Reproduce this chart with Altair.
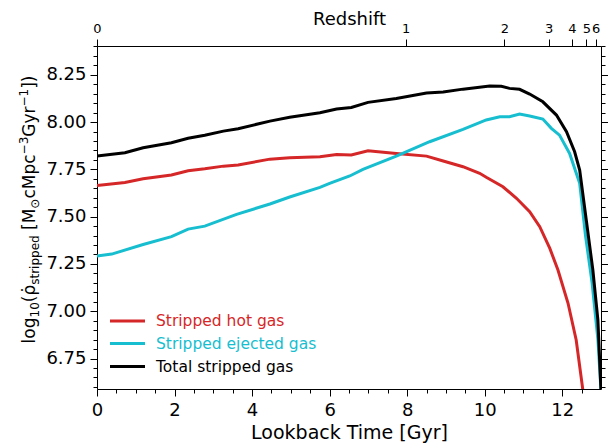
import altair as alt
import pandas as pd

# ---------------- data ----------------
names = ["Stripped hot gas", "Stripped ejected gas", "Total stripped gas"]
colors = ["#d62728", "#17becf", "#000000"]

t_hot = [0.0, 0.72, 1.19, 1.92, 2.35, 2.78, 3.26, 3.64, 4.46, 4.97, 5.75, 6.18, 6.56,
         6.99, 7.72, 8.50, 8.93, 9.44, 9.87, 10.04, 10.47, 10.82, 11.16, 11.42, 11.68,
         11.89, 12.15, 12.36, 12.53, 12.60]
v_hot = [7.665, 7.681, 7.700, 7.720, 7.743, 7.753, 7.767, 7.773, 7.804, 7.811, 7.817, 7.829, 7.826,
         7.848, 7.834, 7.820, 7.794, 7.764, 7.729, 7.708, 7.658, 7.597, 7.526, 7.447, 7.332,
         7.218, 7.042, 6.848, 6.587, 6.450]

t_ej = [0.0, 0.38, 1.19, 1.92, 2.35, 2.78, 3.60, 4.46, 4.97, 5.75, 6.0, 6.52, 6.86,
        7.72, 8.58, 9.44, 10.04, 10.39, 10.64, 10.90, 11.16, 11.50, 11.72, 11.93, 12.19,
        12.45, 12.60, 12.77, 12.92, 13.0]
v_ej = [7.292, 7.302, 7.353, 7.394, 7.434, 7.450, 7.512, 7.567, 7.604, 7.655, 7.676, 7.715, 7.750,
        7.820, 7.896, 7.961, 8.011, 8.028, 8.028, 8.042, 8.032, 8.016, 7.967, 7.931, 7.834,
        7.676, 7.400, 7.150, 6.850, 6.580]

t_tot = [0.0, 0.72, 1.19, 1.92, 2.35, 2.78, 3.26, 3.64, 4.46, 4.97, 5.75, 6.18, 6.56,
         6.99, 7.72, 8.50, 8.93, 9.44, 10.13, 10.43, 10.64, 10.90, 11.16, 11.50, 11.85,
         12.11, 12.32, 12.45, 12.62, 12.79, 12.92, 13.0]
v_tot = [7.820, 7.838, 7.864, 7.891, 7.914, 7.930, 7.952, 7.965, 8.005, 8.025, 8.049, 8.069, 8.077,
         8.104, 8.125, 8.153, 8.159, 8.174, 8.190, 8.189, 8.178, 8.173, 8.148, 8.107, 8.037,
         7.949, 7.843, 7.746, 7.482, 7.218, 6.953, 6.580]

x_major = [0, 2, 4, 6, 8, 10, 12]
x_minor = [0.5, 1, 1.5, 2.5, 3, 3.5, 4.5, 5, 5.5, 6.5, 7, 7.5, 8.5, 9, 9.5, 10.5, 11, 11.5, 12.5]
y_major = [6.75, 7.0, 7.25, 7.5, 7.75, 8.0, 8.25]
y_minor = [6.60, 6.65, 6.70, 6.80, 6.85, 6.90, 6.95, 7.05, 7.10, 7.15, 7.20, 7.30, 7.35, 7.40,
           7.45, 7.55, 7.60, 7.65, 7.70, 7.80, 7.85, 7.90, 7.95, 8.05, 8.10, 8.15, 8.20,
           8.30, 8.35, 8.40]
z_labels = ["0", "1", "2", "3", "4", "5", "6"]
z_lookback = [0.0, 7.96, 10.51, 11.65, 12.25, 12.62, 12.86]

XDOM = [0, 13.0]
YDOM = [6.589, 8.402]

FONT = "DejaVu Sans"
W, H = 504, 343

xs = alt.Scale(domain=XDOM, nice=False, zero=False)
ys = alt.Scale(domain=YDOM, nice=False, zero=False)

# ---------------- data lines ----------------
layers = []
for name, color, t, v in zip(names, colors, [t_hot, t_ej, t_tot], [v_hot, v_ej, v_tot]):
    df = pd.DataFrame({"t": t, "v": v, "series": name})
    layers.append(
        alt.Chart(df).mark_line(color=color, strokeWidth=3, clip=True).encode(
            x=alt.X("t:Q", scale=xs, axis=None),
            y=alt.Y("v:Q", scale=ys, axis=None),
            order="t:Q",
        )
    )

# ---------------- axes (helper layers) ----------------
anchor = pd.DataFrame({"t": [0.0], "v": [7.0]})
common = dict(grid=False, tickColor="#000", domainColor="#000", tickWidth=1, domainWidth=1,
              labelFont=FONT, titleFont=FONT, labelColor="#000", titleColor="#000",
              titleFontWeight="normal", labelFlush=False, labelOverlap=False)


def xlayer(axis):
    return alt.Chart(anchor).mark_point(opacity=0).encode(
        x=alt.X("t:Q", scale=xs, axis=axis), y=alt.Y("v:Q", scale=ys, axis=None))


def ylayer(axis):
    return alt.Chart(anchor).mark_point(opacity=0).encode(
        x=alt.X("t:Q", scale=xs, axis=None), y=alt.Y("v:Q", scale=ys, axis=axis))


z_expr = ("[" + ",".join("'%s'" % s for s in z_labels) + "][indexof(["
          + ",".join(str(v) for v in z_lookback) + "], datum.value)]")

layers += [
    xlayer(alt.Axis(orient="bottom", values=x_major, format="d", tickSize=7,
                    labelFontSize=18, labelPadding=19, labelBaseline="alphabetic",
                    title="Lookback Time [Gyr]", titleFontSize=19, titleY=49,
                    titleBaseline="alphabetic", **common)),
    xlayer(alt.Axis(orient="bottom", values=x_minor, tickSize=4, labels=False,
                    domain=False, title="", **common)),
    xlayer(alt.Axis(orient="top", values=z_lookback, labelExpr=z_expr, tickSize=7,
                    labelFontSize=13, labelPadding=7, labelBaseline="alphabetic",
                    title="Redshift", titleFontSize=18, titleY=-22,
                    titleBaseline="alphabetic", **common)),
    ylayer(alt.Axis(orient="left", values=y_major, format=".2f", tickSize=7,
                    labelFontSize=18, labelPadding=4, title="", **common)),
    ylayer(alt.Axis(orient="left", values=y_minor, tickSize=4, labels=False,
                    domain=False, title="", **common)),
    ylayer(alt.Axis(orient="right", values=y_major, tickSize=7, labels=False,
                    title="", **common)),
    ylayer(alt.Axis(orient="right", values=y_minor, tickSize=4, labels=False,
                    domain=False, title="", **common)),
]

# ---------------- legend ----------------
leg_y = [275, 297.5, 320.5]
for name, color, yy in zip(names, colors, leg_y):
    d = pd.DataFrame({"label": [name]})
    layers.append(alt.Chart(d).mark_rule(color=color, strokeWidth=3).encode(
        x=alt.value(13), x2=alt.value(48), y=alt.value(yy)))
    layers.append(alt.Chart(d).mark_text(color=color, fontSize=15.5, font=FONT, align="left",
                                         baseline="middle").encode(
        text="label:N", x=alt.value(59), y=alt.value(yy)))

# ---------------- y-axis title with sub/superscripts ----------------
adv = {"l": .278, "o": .612, "g": .635, "1": .636, "0": .636, "(": .390, "\u03c1": .635,
       "\u0307": 0.0, "s": .521, "t": .392, "r": .411, "i": .278, "p": .635, "e": .615,
       "d": .635, " ": .318, "[": .390, "M": .863, "\u2299": .838, "c": .550, "\u2212": .838,
       "3": .636, "G": .775, "y": .592, "]": .390, ")": .390}
big, small = 17, 12
pieces = [("log", big, 0), ("10", small, 4), ("(", big, 0), ("\u03c1\u0307", big, 0),
          ("stripped", small, 4), (" [M", big, 0), ("\u2299", small, 4), ("cMpc", big, 0),
          ("\u22123", small, -7), ("Gyr", big, 0), ("\u22121", small, -7), ("])", big, 0)]
total = sum(sum(adv.get(ch, .6) for ch in txt) * fs for txt, fs, _ in pieces)
center_y, base_x = 163.5, -62
cum = 0.0
for txt, fs, shift in pieces:
    lead = 0.0
    while txt.startswith(" "):
        lead += adv[" "] * fs
        txt = txt[1:]
    cum += lead
    d = pd.DataFrame({"s": [txt]})
    layers.append(alt.Chart(d).mark_text(angle=270, align="left", baseline="alphabetic",
                                         fontSize=fs, font=FONT, color="#000",
                                         dx=cum, dy=shift).encode(
        text="s:N", x=alt.value(base_x), y=alt.value(center_y + total / 2)))
    cum += sum(adv.get(ch, .6) for ch in txt) * fs

chart = alt.layer(*layers).resolve_axis(x="independent", y="independent").properties(
    width=W, height=H,
    autosize=alt.AutoSizeParams(type="none"),
    padding={"left": 89, "top": 38, "right": 7, "bottom": 58},
).configure_view(stroke=None)

chart.save("out.html", embed_options={"renderer": "svg", "actions": False})
